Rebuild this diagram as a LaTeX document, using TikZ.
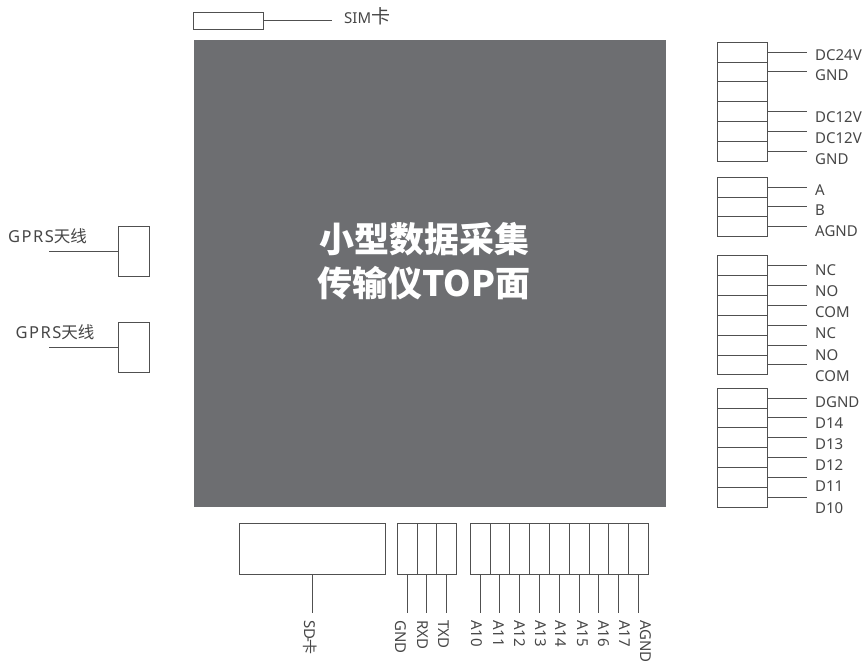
\documentclass[tikz,border=0pt]{standalone}
\usepackage{fontspec}
\setmainfont{Noto Sans}
\newfontfamily\cjk{Noto Sans CJK SC}
\newfontfamily\wide[LetterSpace=9]{Noto Sans}
\definecolor{corefill}{RGB}{109,110,113}
\definecolor{wirecol}{RGB}{80,80,80}
\definecolor{textcol}{RGB}{70,70,70}
\usetikzlibrary{positioning}

\begin{document}
\begin{tikzpicture}[
      x=1pt, y=-1pt,
      font=\fontsize{15}{16}\selectfont,
      box/.style={draw=wirecol,thick,fill=white,outer sep=0pt,inner sep=0pt},
      rowcell/.style={box,minimum width=50pt,minimum height=19.87pt},
      colcell/.style={box,minimum width=19.8pt,minimum height=51pt},
      wire/.style={draw=wirecol,thick},
      rlab/.style={text=textcol,inner sep=4pt,anchor=west},
      blab/.style={text=textcol,inner sep=4pt,anchor=west,rotate=-90},
      antlab/.style={text=textcol,inner sep=0pt,font=\fontsize{16.5}{18}\selectfont\wide}
    ]
    \useasboundingbox (0,0) rectangle (865,664);

    % Main block
    \node (core) [fill=corefill,minimum width=472pt,minimum height=467pt,inner sep=0pt] at (430,273.5) {};
    \node (title) [text=white,align=center,font=\fontsize{35}{44}\selectfont\cjk\bfseries] at (424,261.5)
                                                      {小型数据采集\\传输仪TOP面};

    % SIM card
    \node (sim)    [box,minimum width=69.5pt,minimum height=17pt] at (228.5,20.5) {};
    \node (simlab) [rlab,inner sep=0pt] at (344,16) {SIM{\cjk\fontsize{19}{19}\selectfont 卡}};
    \coordinate (simend) at (332,20.5);
    \draw[wire] (sim.east) -- (simend);

    % Antennas
    \node (ant1) [box,minimum width=31pt,minimum height=50pt] at (133.5,251) {};
    \node (ant2) [box,minimum width=31pt,minimum height=50pt] at (133.5,347) {};
    \node (antlab1) [antlab] at (47.5,236) {GPRS{\cjk 天线}};
    \node (antlab2) [antlab] at (55,332)   {GPRS{\cjk 天线}};
    \coordinate (antend1) at (49,251);
    \coordinate (antend2) at (49,347);
    \draw[wire] (ant1.west) -- (antend1);
    \draw[wire] (ant2.west) -- (antend2);

    % Power terminals
    \node (p1) [rowcell] at (742,52) {};
    \node (p2) [rowcell, below=0pt of p1] {};
    \node (p3) [rowcell, below=0pt of p2] {};
    \node (p4) [rowcell, below=0pt of p3] {};
    \node (p5) [rowcell, below=0pt of p4] {};
    \node (p6) [rowcell, below=0pt of p5] {};
    \node (lp1) [rlab] at (811,55)  {DC24V};
    \node (lp2) [rlab] at (811,75)  {GND};
    \node (lp4) [rlab] at (811,117) {DC12V};
    \node (lp5) [rlab] at (811,138) {DC12V};
    \node (lp6) [rlab] at (811,159) {GND};
    \draw[wire,shorten >=4pt] (p1.east) -- (p1.east -| lp1.west);
    \draw[wire,shorten >=4pt] (p2.east) -- (p2.east -| lp2.west);
    \draw[wire,shorten >=4pt] (p4.east) -- (p4.east -| lp4.west);
    \draw[wire,shorten >=4pt] (p5.east) -- (p5.east -| lp5.west);
    \draw[wire,shorten >=4pt] (p6.east) -- (p6.east -| lp6.west);

    % RS485 terminals
    \node (s1) [rowcell] at (742,187) {};
    \node (s2) [rowcell, below=0pt of s1] {};
    \node (s3) [rowcell, below=0pt of s2] {};
    \node (ls1) [rlab] at (811,190) {A};
    \node (ls2) [rlab] at (811,210) {B};
    \node (ls3) [rlab] at (811,231) {AGND};
    \draw[wire,shorten >=4pt] (s1.east) -- (s1.east -| ls1.west);
    \draw[wire,shorten >=4pt] (s2.east) -- (s2.east -| ls2.west);
    \draw[wire,shorten >=4pt] (s3.east) -- (s3.east -| ls3.west);

    % Relay terminals
    \node (k1) [rowcell] at (742,265.5) {};
    \node (k2) [rowcell, below=0pt of k1] {};
    \node (k3) [rowcell, below=0pt of k2] {};
    \node (k4) [rowcell, below=0pt of k3] {};
    \node (k5) [rowcell, below=0pt of k4] {};
    \node (k6) [rowcell, below=0pt of k5] {};
    \node (lk1) [rlab] at (811,270) {NC};
    \node (lk2) [rlab] at (811,291) {NO};
    \node (lk3) [rlab] at (811,312) {COM};
    \node (lk4) [rlab] at (811,333) {NC};
    \node (lk5) [rlab] at (811,355) {NO};
    \node (lk6) [rlab] at (811,376) {COM};
    \draw[wire,shorten >=4pt] (k1.east) -- (k1.east -| lk1.west);
    \draw[wire,shorten >=4pt] (k2.east) -- (k2.east -| lk2.west);
    \draw[wire,shorten >=4pt] (k3.east) -- (k3.east -| lk3.west);
    \draw[wire,shorten >=4pt] (k4.east) -- (k4.east -| lk4.west);
    \draw[wire,shorten >=4pt] (k5.east) -- (k5.east -| lk5.west);
    \draw[wire,shorten >=4pt] (k6.east) -- (k6.east -| lk6.west);

    % Digital terminals
    \node (d1) [rowcell] at (742,398) {};
    \node (d2) [rowcell, below=0pt of d1] {};
    \node (d3) [rowcell, below=0pt of d2] {};
    \node (d4) [rowcell, below=0pt of d3] {};
    \node (d5) [rowcell, below=0pt of d4] {};
    \node (d6) [rowcell, below=0pt of d5] {};
    \node (ld1) [rlab] at (811,402) {DGND};
    \node (ld2) [rlab] at (811,423) {D14};
    \node (ld3) [rlab] at (811,444) {D13};
    \node (ld4) [rlab] at (811,465) {D12};
    \node (ld5) [rlab] at (811,486) {D11};
    \node (ld6) [rlab] at (811,508) {D10};
    \draw[wire,shorten >=4pt] (d1.east) -- (d1.east -| ld1.west);
    \draw[wire,shorten >=4pt] (d2.east) -- (d2.east -| ld2.west);
    \draw[wire,shorten >=4pt] (d3.east) -- (d3.east -| ld3.west);
    \draw[wire,shorten >=4pt] (d4.east) -- (d4.east -| ld4.west);
    \draw[wire,shorten >=4pt] (d5.east) -- (d5.east -| ld5.west);
    \draw[wire,shorten >=4pt] (d6.east) -- (d6.east -| ld6.west);

    % SD card
    \node (sd)    [box,minimum width=146pt,minimum height=51pt] at (312,548.5) {};
    \node (sdlab) [blab] at (310,616) {SD\kern-2pt-\kern-3pt{\cjk 卡}};
    \draw[wire,shorten >=3pt] (sd.south) -- (sd.south |- sdlab.west);

    % Serial terminals
    \node (u1) [colcell] at (407,548.5) {};
    \node (u2) [colcell, right=0pt of u1] {};
    \node (u3) [colcell, right=0pt of u2] {};
    \node (lu1) [blab] at (401,616) {GND};
    \node (lu2) [blab] at (423,616) {RXD};
    \node (lu3) [blab] at (444,616) {TXD};
    \draw[wire,shorten >=3pt] (u1.south) -- (u1.south |- lu1.west);
    \draw[wire,shorten >=3pt] (u2.south) -- (u2.south |- lu2.west);
    \draw[wire,shorten >=3pt] (u3.south) -- (u3.south |- lu3.west);

    % Analog terminals
    \node (a0) [colcell] at (480,548.5) {};
    \node (a1) [colcell, right=0pt of a0] {};
    \node (a2) [colcell, right=0pt of a1] {};
    \node (a3) [colcell, right=0pt of a2] {};
    \node (a4) [colcell, right=0pt of a3] {};
    \node (a5) [colcell, right=0pt of a4] {};
    \node (a6) [colcell, right=0pt of a5] {};
    \node (a7) [colcell, right=0pt of a6] {};
    \node (a8) [colcell, right=0pt of a7] {};
    \node (la0) [blab] at (477,616) {A10};
    \node (la1) [blab] at (499,616) {A11};
    \node (la2) [blab] at (520,616) {A12};
    \node (la3) [blab] at (541,616) {A13};
    \node (la4) [blab] at (561,616) {A14};
    \node (la5) [blab] at (583,616) {A15};
    \node (la6) [blab] at (604,616) {A16};
    \node (la7) [blab] at (625,616) {A17};
    \node (la8) [blab] at (646,616) {AGND};
    \draw[wire,shorten >=3pt] (a0.south) -- (a0.south |- la0.west);
    \draw[wire,shorten >=3pt] (a1.south) -- (a1.south |- la1.west);
    \draw[wire,shorten >=3pt] (a2.south) -- (a2.south |- la2.west);
    \draw[wire,shorten >=3pt] (a3.south) -- (a3.south |- la3.west);
    \draw[wire,shorten >=3pt] (a4.south) -- (a4.south |- la4.west);
    \draw[wire,shorten >=3pt] (a5.south) -- (a5.south |- la5.west);
    \draw[wire,shorten >=3pt] (a6.south) -- (a6.south |- la6.west);
    \draw[wire,shorten >=3pt] (a7.south) -- (a7.south |- la7.west);
    \draw[wire,shorten >=3pt] (a8.south) -- (a8.south |- la8.west);
  \end{tikzpicture}
\end{document}
